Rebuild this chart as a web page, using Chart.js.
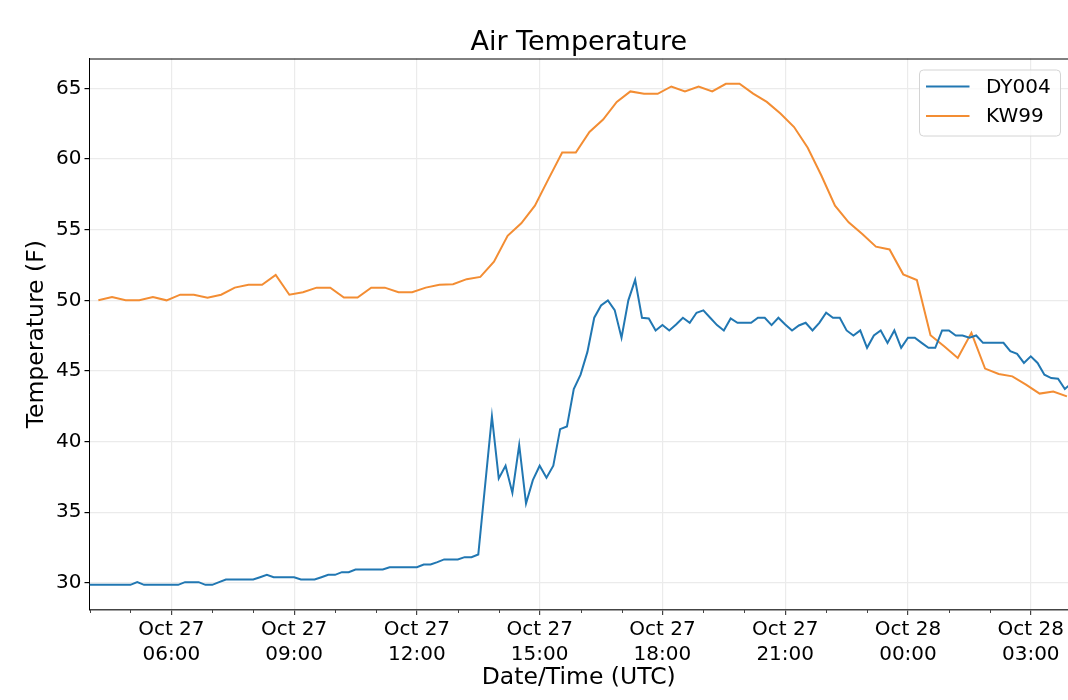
<!DOCTYPE html>
<html>
<head>
<meta charset="utf-8">
<title>Air Temperature</title>
<script src="https://cdn.jsdelivr.net/npm/chart.js@4.4.1/dist/chart.umd.min.js"></script>
<style>
  html, body { margin: 0; padding: 0; background: #fff; }
  #wrap { position: relative; width: 1068px; height: 700px; }
</style>
</head>
<body>
<div id="wrap"><canvas id="chart"></canvas></div>
<script>
var stations = ['DY004', 'KW99'];
var stationColors = ['#2177b2', '#f38d33'];

// DY004: a reading every 10 min from Oct 27 04:00 UTC (x = hours since Oct 27 00:00)
var dyStart = 4.0;
var dyStep = 10 / 60;
var dyTemps = [
    29.86, 29.86, 29.86, 29.86, 29.86, 29.86, 29.86, 30.05, 29.86, 29.86,
    29.86, 29.86, 29.86, 29.86, 30.05, 30.05, 30.05, 29.86, 29.86, 30.05,
    30.24, 30.24, 30.24, 30.24, 30.24, 30.4, 30.57, 30.4, 30.4, 30.4,
    30.4, 30.24, 30.24, 30.24, 30.4, 30.57, 30.57, 30.76, 30.76, 30.95,
    30.95, 30.95, 30.95, 30.95, 31.11, 31.11, 31.11, 31.11, 31.11, 31.3,
    31.3, 31.47, 31.66, 31.66, 31.66, 31.82, 31.82, 32.01, null, 41.78,
    37.39, 38.29, 36.37, 39.76, 35.62, 37.27, 38.29, 37.44, 38.29, 40.88,
    41.07, 43.72, 44.74, 46.35, 48.77, 49.64, 50.0, 49.31, 47.35, 50.0,
    51.45, 48.77, 48.72, 47.87, 48.25, 47.87, 48.29, 48.77, 48.41, 49.12,
    49.29, 48.77, 48.25, 47.87, 48.72, 48.41, 48.41, 48.41, 48.77, 48.77,
    48.25, 48.77, 48.29, 47.87, 48.22, 48.41, 47.87, 48.41, 49.12, 48.77,
    48.77, 47.87, 47.51, 47.87, 46.64, 47.51, 47.87, 46.99, 47.87, 46.64,
    47.35, 47.35, 46.99, 46.64, 46.64, 47.87, 47.87, 47.51, 47.51, 47.35,
    47.51, 46.99, 46.99, 46.99, 46.99, 46.4, 46.21, 45.57, 46.04, 45.57,
    44.74, 44.5, 44.45, 43.72, 44.15
];

// KW99: a reading every 20 min from Oct 27 04:13 UTC
var kwStart = 4 + 13 / 60;
var kwStep = 20 / 60;
var kwTemps = [
    50.0, 50.23, 50.0, 50.0, 50.23, 50.0, 50.4, 50.4, 50.18, 50.4,
    50.9, 51.1, 51.1, 51.8, 50.4, 50.57, 50.9, 50.9, 50.2, 50.2,
    50.9, 50.9, 50.57, 50.57, 50.9, 51.1, 51.14, 51.5, 51.66, 52.73,
    54.57, 55.45, 56.7, 58.6, 60.47, 60.47, 61.92, 62.8, 64.05, 64.79,
    64.62, 64.62, 65.14, 64.79, 65.14, 64.79, 65.33, 65.33, 64.63, 64.05,
    63.22, 62.27, 60.8, 58.84, 56.7, 55.52, 54.69, 53.8, 53.6, 51.84,
    51.44, 47.53, 46.75, 45.92, 47.7, 45.17, 44.79, 44.62, 44.03, 43.4,
    43.55, 43.2
];

var xTicks = [6, 9, 12, 15, 18, 21, 24, 27];
var yTicks = [30, 35, 40, 45, 50, 55, 60, 65];
var xMin = 4.0, xMax = 27.91;
var yMin = 28.08, yMax = 67.12;

function toPoints(start, step, temps) {
    return temps.map(function (t, i) {
        return {x: start + i * step, y: t};
    });
}

function pad(n) {
    return (n < 10 ? '0' : '') + n;
}

Chart.defaults.font.family = 'DejaVu Sans';
Chart.defaults.color = '#000';

// spines, hourly minor ticks and the legend box
var framePlugin = {
    id: 'frame',
    afterDraw: function (chart) {
        var ctx = chart.ctx;
        var area = chart.chartArea;
        var xs = chart.scales.x;

        ctx.save();
        ctx.strokeStyle = '#000';
        ctx.lineWidth = 1;
        ctx.beginPath();
        ctx.moveTo(area.left, area.top + 0.5);
        ctx.lineTo(area.right, area.top + 0.5);
        ctx.stroke();

        ctx.strokeStyle = '#444';
        for (var h = Math.ceil(xMin); h <= xMax; h++) {
            if (h % 3 === 0) continue;
            var px = Math.round(xs.getPixelForValue(h)) + 0.5;
            ctx.beginPath();
            ctx.moveTo(px, area.bottom);
            ctx.lineTo(px, area.bottom + 3);
            ctx.stroke();
        }

        // legend
        var bx = area.right - 148.5, by = area.top + 11.5, bw = 141, bh = 66;
        ctx.beginPath();
        ctx.roundRect(bx, by, bw, bh, 4);
        ctx.fillStyle = 'rgba(255,255,255,0.8)';
        ctx.fill();
        ctx.strokeStyle = '#d4d4d4';
        ctx.stroke();

        ctx.font = '20px "DejaVu Sans"';
        ctx.textBaseline = 'middle';
        ctx.textAlign = 'left';
        chart.data.datasets.forEach(function (ds, i) {
            var ly = by + 16.5 + i * 29.5;
            ctx.strokeStyle = ds.borderColor;
            ctx.lineWidth = 2;
            ctx.beginPath();
            ctx.moveTo(bx + 6.5, ly);
            ctx.lineTo(bx + 50, ly);
            ctx.stroke();
            ctx.fillStyle = '#000';
            ctx.fillText(ds.label, bx + 66.5, ly + 1);
        });
        ctx.restore();
    }
};

new Chart(document.getElementById('chart'), {
    type: 'line',
    data: {
        datasets: [
            {
                label: stations[0],
                data: toPoints(dyStart, dyStep, dyTemps),
                borderColor: stationColors[0],
                backgroundColor: stationColors[0],
                borderWidth: 2,
                pointRadius: 0,
                tension: 0,
                spanGaps: true
            },
            {
                label: stations[1],
                data: toPoints(kwStart, kwStep, kwTemps),
                borderColor: stationColors[1],
                backgroundColor: stationColors[1],
                borderWidth: 2,
                pointRadius: 0,
                tension: 0
            }
        ]
    },
    options: {
        responsive: true,
        maintainAspectRatio: false,
        animation: false,
        layout: {
            padding: {left: 0, right: 0, top: 0, bottom: 0}
        },
        plugins: {
            legend: {display: false},
            tooltip: {enabled: false},
            title: {
                display: true,
                fullSize: false,
                text: 'Air Temperature',
                color: '#000',
                font: {size: 27, weight: 'normal', lineHeight: 1.0},
                padding: {top: 29.9, bottom: 1.6}
            }
        },
        scales: {
            x: {
                type: 'linear',
                min: xMin,
                max: xMax,
                afterFit: function (scale) {
                    scale.height = 90;
                },
                afterBuildTicks: function (scale) {
                    scale.ticks = xTicks.map(function (v) {
                        return {value: v};
                    });
                },
                ticks: {
                    autoSkip: false,
                    maxRotation: 0,
                    padding: 3,
                    font: {size: 20, lineHeight: 1.22},
                    callback: function (value) {
                        var day = value >= 24 ? 28 : 27;
                        return ['Oct ' + day, pad(value % 24) + ':00'];
                    }
                },
                grid: {
                    color: '#ebebeb',
                    lineWidth: 1.2,
                    tickColor: '#444',
                    tickLength: 5
                },
                border: {color: '#444', width: 1.5},
                title: {
                    display: true,
                    text: 'Date/Time (UTC)',
                    font: {size: 23.5},
                    padding: {top: 0, bottom: 7.9}
                }
            },
            y: {
                type: 'linear',
                min: yMin,
                max: yMax,
                afterFit: function (scale) {
                    scale.width = 89.5;
                },
                afterBuildTicks: function (scale) {
                    scale.ticks = yTicks.map(function (v) {
                        return {value: v};
                    });
                },
                ticks: {
                    padding: 3,
                    font: {size: 20}
                },
                grid: {
                    color: '#ebebeb',
                    lineWidth: 1.2,
                    tickColor: '#000',
                    tickLength: 5
                },
                border: {color: '#000', width: 1},
                title: {
                    display: true,
                    text: 'Temperature (F)',
                    font: {size: 23.5},
                    padding: {top: 23.1, bottom: 0}
                }
            }
        }
    },
    plugins: [framePlugin]
});
</script>
</body>
</html>
